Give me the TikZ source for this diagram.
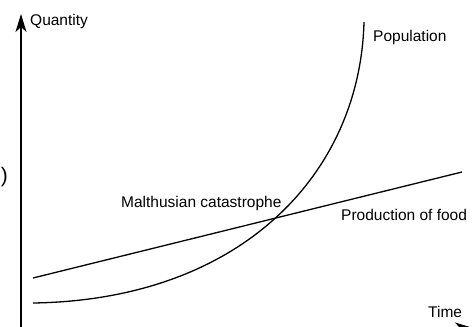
\documentclass[tikz,border=0pt]{standalone}
\usepackage{fontspec}
\setmainfont{Liberation Sans}
\usetikzlibrary{arrows.meta}
\begin{document}
\begin{tikzpicture}[x=1pt,y=-1pt,
  lbl/.style={inner sep=0pt,font=\fontsize{15.5}{18}\selectfont},
  axis/.style={line width=1.3pt,-{Stealth[length=18pt,width=11pt,inset=5pt]}},
  curve/.style={line width=1.3pt}]
\useasboundingbox (0,0) rectangle (475,327);
\clip (0,0) rectangle (475,327);
\coordinate (o) at (21,328);
\coordinate (ytip) at (21,14);
\coordinate (xtip) at (473,328);
\draw[axis] (o) -- (ytip);
\draw[axis] (o) -- (xtip);
\coordinate (f0) at (33,278);
\coordinate (f1) at (462,172);
\draw[curve] (f0) -- (f1);
\coordinate (p0) at (33,303);
\coordinate (p1) at (364,22);
\draw[curve] (p0) .. controls (240,300) and (360,175) .. (p1);
\node[lbl,anchor=west] (q) at (30,21) {Quantity};
\node[lbl,anchor=west] (pop) at (373,37) {Population};
\node[lbl,anchor=west] (mc) at (121,203) {Malthusian catastrophe};
\node[lbl,anchor=west] (pf) at (341,215) {Production of food};
\node[lbl,anchor=west] (t) at (428,312) {Time};
\node[lbl,anchor=east,font=\fontsize{21}{24}\selectfont] (par) at (8,177) {)};
\end{tikzpicture}
\end{document}
